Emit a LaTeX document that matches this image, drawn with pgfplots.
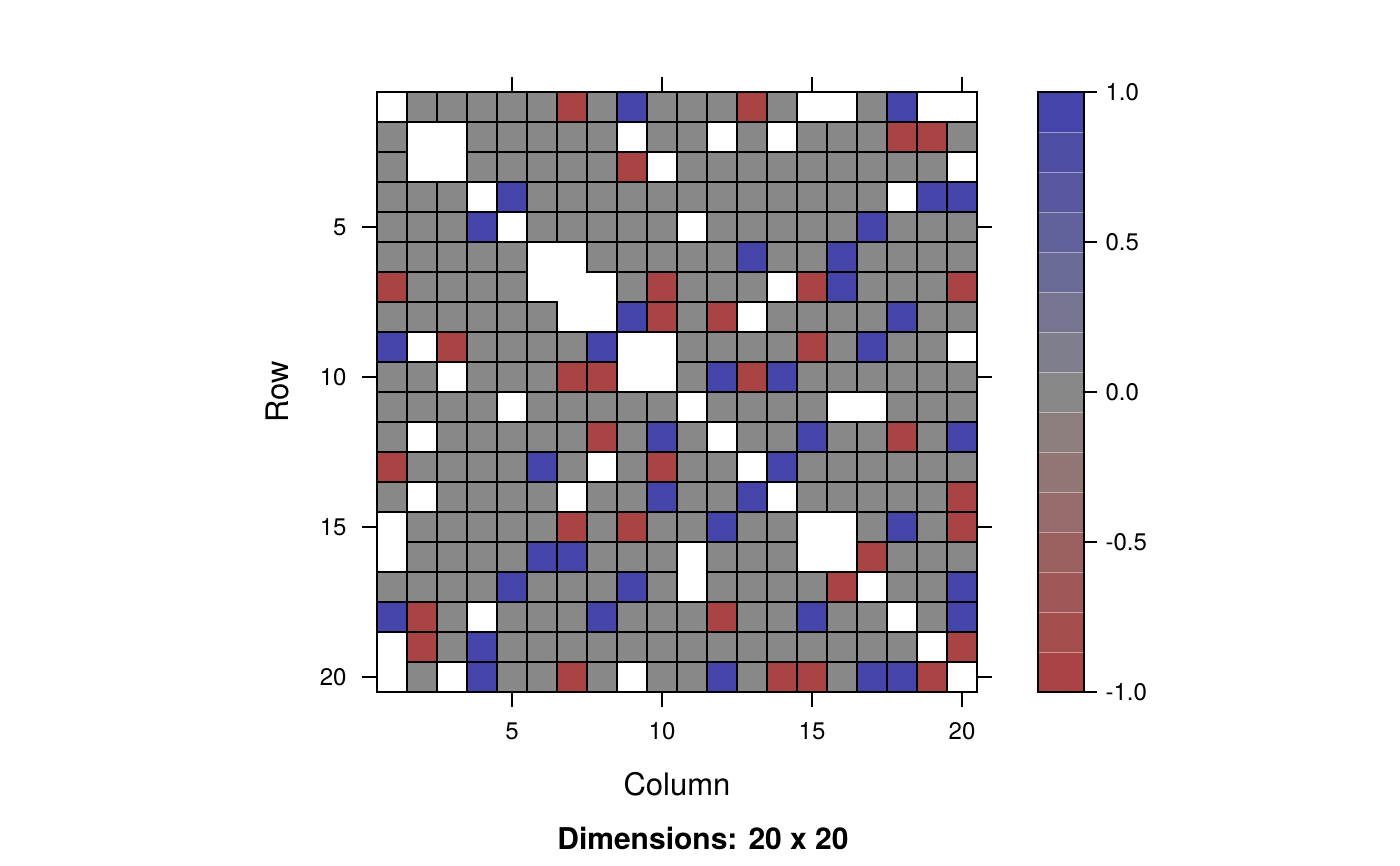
\documentclass[border=0pt]{standalone}
\usepackage{pgfplots}
\pgfplotsset{compat=1.18}
\usepackage{pgfplotstable}
\usepackage{fontspec}
\setmainfont{TeX Gyre Heros}
\definecolor{cgray}{RGB}{136,136,136}
\definecolor{cred}{RGB}{170,68,68}
\definecolor{cblue}{RGB}{68,68,170}
\definecolor{k0}{RGB}{170,68,68}
\definecolor{k1}{RGB}{165,78,78}
\definecolor{k2}{RGB}{160,87,87}
\definecolor{k3}{RGB}{155,97,97}
\definecolor{k4}{RGB}{151,107,107}
\definecolor{k5}{RGB}{146,117,117}
\definecolor{k6}{RGB}{141,126,126}
\definecolor{k7}{RGB}{136,136,136}
\definecolor{k8}{RGB}{126,126,141}
\definecolor{k9}{RGB}{117,117,146}
\definecolor{k10}{RGB}{107,107,151}
\definecolor{k11}{RGB}{97,97,155}
\definecolor{k12}{RGB}{87,87,160}
\definecolor{k13}{RGB}{78,78,165}
\definecolor{k14}{RGB}{68,68,170}
% R = -1, G = 0, B = 1, W = empty (no entry)
\pgfplotstableread{
c1 c2 c3 c4 c5 c6 c7 c8 c9 c10 c11 c12 c13 c14 c15 c16 c17 c18 c19 c20
W G G G G G R G B G G G R G W W G B W W
G W W G G G G G W G G W G W G G G R R G
G W W G G G G G R W G G G G G G G G G W
G G G W B G G G G G G G G G G G G W B B
G G G B W G G G G G W G G G G G B G G G
G G G G G W W G G G G G B G G B G G G G
R G G G G W W W G R G G G W R B G G G R
G G G G G G W W B R G R W G G G G B G G
B W R G G G G B W W G G G G R G B G G W
G G W G G G R R W W G B R B G G G G G G
G G G G W G G G G G W G G G G W W G G G
G W G G G G G R G B G W G G B G G R G B
R G G G G B G W G R G G W B G G G G G G
G W G G G G W G G B G G B W G G G G G R
W G G G G G R G R G G B G G W W G B G R
W G G G G B B G G G W G G G W W R G G G
G G G G B G G G B G W G G G G R W G G B
B R G W G G G B G G G R G G B G G W G B
W R G B G G G G G G G G G G G G G G W R
W G W B G G R G W G G B G R R G B B R W
}\cells
\begin{document}
\begin{tikzpicture}
\path[use as bounding box] (0,0) rectangle (1400bp,866bp);
\begin{axis}[
  at={(377bp,174bp)}, anchor=south west,
  width=600bp, height=600bp, scale only axis,
  xmin=0.5, xmax=20.5, ymin=0.5, ymax=20.5, y dir=reverse,
  xtick={5,10,15,20}, ytick={5,10,15,20},
  tick align=outside, major tick length=15bp,
  xtick pos=both, ytick pos=both,
  xticklabel pos=bottom, yticklabel pos=left,
  xticklabel shift=12bp, yticklabel shift=12bp,
  tick style={black, line width=1.2bp},
  axis line style={black, line width=1.2bp},
  tick label style={font=\fontsize{24bp}{28bp}\selectfont},
  /pgf/number format/assume math mode=true,
  xlabel={Column}, ylabel={Row},
  label style={font=\fontsize{31bp}{36bp}\selectfont},
  xlabel style={at={(axis description cs:0.5,-0.15333)}, anchor=center},
  ylabel style={at={(axis description cs:-0.16667,0.5)}, anchor=center},
  clip=false,
]
\pgfplotsinvokeforeach{1,...,20}{
  \addplot[scatter, only marks, mark=square*, mark size=15bp,
    point meta=explicit symbolic,
    mark options={line width=1.3bp},
    scatter/classes={
      G={draw=black, fill=cgray},
      R={draw=black, fill=cred},
      B={draw=black, fill=cblue},
      W={draw opacity=0, fill opacity=0}}]
    table[x expr=#1, y expr=\coordindex+1, meta=c#1] {\cells};
}
\end{axis}
\begin{axis}[
  at={(1038bp,174bp)}, anchor=south west,
  width=46bp, height=600bp, scale only axis,
  xmin=0, xmax=1, ymin=-1, ymax=1,
  xtick=\empty, ytick={-1,-0.5,0,0.5,1},
  ytick pos=right, yticklabel pos=right,
  yticklabel shift=5bp,
  tick align=outside, major tick length=13bp,
  tick style={black, line width=1.2bp},
  axis line style={black, line width=1.2bp},
  axis on top,
  tick label style={font=\fontsize{24bp}{28bp}\selectfont},
  yticklabel style={/pgf/number format/.cd, fixed, fixed zerofill, precision=1, assume math mode=true},
]
\addplot[fill=k0, draw=white, draw opacity=0.25, line width=0.5bp] coordinates {(0,-1) (1,-1) (1,-0.86667) (0,-0.86667)} -- cycle;
\addplot[fill=k1, draw=white, draw opacity=0.25, line width=0.5bp] coordinates {(0,-0.86667) (1,-0.86667) (1,-0.73333) (0,-0.73333)} -- cycle;
\addplot[fill=k2, draw=white, draw opacity=0.25, line width=0.5bp] coordinates {(0,-0.73333) (1,-0.73333) (1,-0.6) (0,-0.6)} -- cycle;
\addplot[fill=k3, draw=white, draw opacity=0.25, line width=0.5bp] coordinates {(0,-0.6) (1,-0.6) (1,-0.46667) (0,-0.46667)} -- cycle;
\addplot[fill=k4, draw=white, draw opacity=0.25, line width=0.5bp] coordinates {(0,-0.46667) (1,-0.46667) (1,-0.33333) (0,-0.33333)} -- cycle;
\addplot[fill=k5, draw=white, draw opacity=0.25, line width=0.5bp] coordinates {(0,-0.33333) (1,-0.33333) (1,-0.2) (0,-0.2)} -- cycle;
\addplot[fill=k6, draw=white, draw opacity=0.25, line width=0.5bp] coordinates {(0,-0.2) (1,-0.2) (1,-0.06667) (0,-0.06667)} -- cycle;
\addplot[fill=k7, draw=white, draw opacity=0.25, line width=0.5bp] coordinates {(0,-0.06667) (1,-0.06667) (1,0.06667) (0,0.06667)} -- cycle;
\addplot[fill=k8, draw=white, draw opacity=0.25, line width=0.5bp] coordinates {(0,0.06667) (1,0.06667) (1,0.2) (0,0.2)} -- cycle;
\addplot[fill=k9, draw=white, draw opacity=0.25, line width=0.5bp] coordinates {(0,0.2) (1,0.2) (1,0.33333) (0,0.33333)} -- cycle;
\addplot[fill=k10, draw=white, draw opacity=0.25, line width=0.5bp] coordinates {(0,0.33333) (1,0.33333) (1,0.46667) (0,0.46667)} -- cycle;
\addplot[fill=k11, draw=white, draw opacity=0.25, line width=0.5bp] coordinates {(0,0.46667) (1,0.46667) (1,0.6) (0,0.6)} -- cycle;
\addplot[fill=k12, draw=white, draw opacity=0.25, line width=0.5bp] coordinates {(0,0.6) (1,0.6) (1,0.73333) (0,0.73333)} -- cycle;
\addplot[fill=k13, draw=white, draw opacity=0.25, line width=0.5bp] coordinates {(0,0.73333) (1,0.73333) (1,0.86667) (0,0.86667)} -- cycle;
\addplot[fill=k14, draw=white, draw opacity=0.25, line width=0.5bp] coordinates {(0,0.86667) (1,0.86667) (1,1) (0,1)} -- cycle;
\end{axis}
\node[font=\fontsize{30bp}{36bp}\selectfont\bfseries] at (703bp,28bp) {Dimensions: 20 x 20};
\end{tikzpicture}
\end{document}
